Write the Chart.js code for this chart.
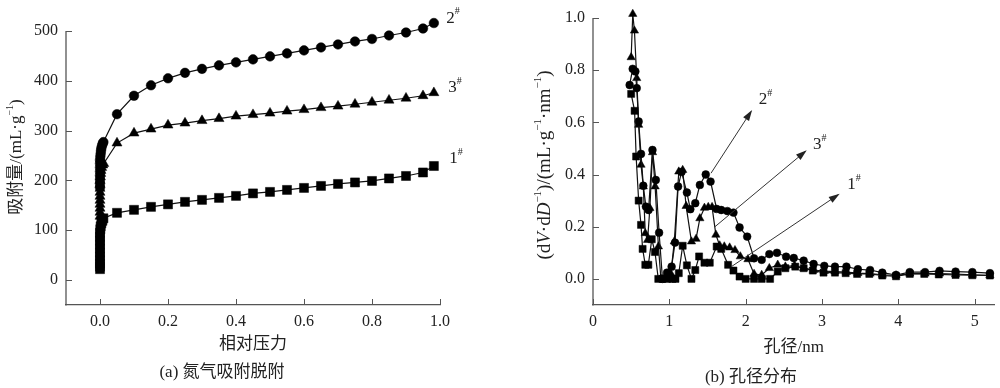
<!DOCTYPE html>
<html lang="zh">
<head>
<meta charset="UTF-8">
<title>氮气吸附脱附与孔径分布</title>
<script src="https://cdn.jsdelivr.net/npm/chart.js"></script>
<style>
body { margin: 0; background: #fff; width: 1000px; height: 388px; position: relative; overflow: hidden; }
canvas { position: absolute; top: 0; }
#chartA { left: 0; }
#chartB { left: 480px; }
.caption { position: absolute; font-family: "Liberation Serif", "Noto Sans CJK SC"; font-size: 17px; line-height: 20px; color: #222; white-space: nowrap; transform: translateX(-50%); }
</style>
</head>
<body>
<canvas id="chartA" width="470" height="388"></canvas>
<canvas id="chartB" width="520" height="388"></canvas>
<div class="caption" style="left:222px; top:362px;">(a) 氮气吸附脱附</div>
<div class="caption" style="left:751px; top:367px;">(b) 孔径分布</div>
<script>
// ---- (a) nitrogen adsorption isotherms ----
const pressure1 = [0,0,0,0,0,0,0,0,0,0,0,0.001,0.002,0.004,0.007,0.01,
  0.05,0.1,0.15,0.2,0.25,0.3,0.35,0.4,0.45,0.5,0.55,0.6,0.65,0.7,0.75,0.8,0.85,0.9,0.95,0.982];
const adsorb1 = [22,27,33,40,47,55,63,71,79,87,95,102,108,114,119,124,
  135,141,147,152,157,161,165,169,174,177,181,185,189,193,196,199,204,209,216,229];
const pressure2 = [0,0,0,0,0,0,0,0,0.001,0.002,0.003,0.004,0.006,0.008,0.01,
  0.05,0.1,0.15,0.2,0.25,0.3,0.35,0.4,0.45,0.5,0.55,0.6,0.65,0.7,0.75,0.8,0.85,0.9,0.95,0.982];
const adsorb2 = [186,194,202,210,218,226,234,241,248,254,260,265,270,274,277,
  333,370,391,405,416,424,431,437,443,449,455,461,467,473,479,484,491,497,505,516];
const pressure3 = [0,0,0,0,0,0,0,0,0,0,0.001,0.002,0.003,0.005,0.008,0.011,
  0.05,0.1,0.15,0.2,0.25,0.3,0.35,0.4,0.45,0.5,0.55,0.6,0.65,0.7,0.75,0.8,0.85,0.9,0.95,0.982];
const adsorb3 = [128,136,144,152,160,168,176,184,192,200,207,214,220,226,231,234,
  275,295,303,311,315,320,324,329,332,335,339,342,346,349,353,357,361,365,370,376];
const pressureTicks = [0, 0.2, 0.4, 0.6, 0.8, 1.0];
const adsorbTicks = [0, 100, 200, 300, 400, 500];

// ---- (b) pore size distribution ----
const pore1 = [0.50,0.545,0.565,0.598,0.629,0.65,0.685,0.725,0.77,0.812,0.855,0.91,0.97,1.04,1.08,1.124,1.175,1.23,1.29,1.34,
  1.39,1.46,1.53,1.62,1.68,1.77,1.84,1.92,2.0,2.11,2.21,2.32,2.42,2.52,2.65,2.76,2.88,3.02,3.17,3.31,
  3.46,3.62,3.79,3.97,4.15,4.34,4.53,4.75,4.97,5.2];
const dv1 = [0.709,0.644,0.469,0.30,0.207,0.115,0.054,0.054,0.152,0.103,0,0,0,0,0,0.022,0.127,0.052,0,0.034,
  0.086,0.062,0.062,0.124,0.115,0.054,0.032,0.009,0,0,0,0,0.028,0.041,0.047,0.041,0.032,0.024,0.024,0.022,
  0.019,0.019,0.013,0.010,0.019,0.019,0.017,0.015,0.014,0.013];
const pore2 = [0.48,0.52,0.555,0.573,0.598,0.629,0.659,0.693,0.728,0.779,0.823,0.866,0.91,0.97,1.03,1.075,1.115,1.16,1.23,1.275,
  1.34,1.40,1.477,1.54,1.62,1.68,1.76,1.84,1.92,2.02,2.11,2.21,2.31,2.41,2.53,2.63,2.76,2.89,3.03,3.17,
  3.32,3.47,3.63,3.79,3.97,4.15,4.35,4.54,4.75,4.97,5.2];
const dv2 = [0.743,0.805,0.795,0.731,0.603,0.479,0.357,0.277,0.264,0.494,0.379,0.177,0,0.024,0.047,0.139,0.354,0.41,0.331,0.267,
  0.29,0.36,0.40,0.373,0.268,0.264,0.26,0.254,0.197,0.162,0.079,0.073,0.095,0.10,0.085,0.08,0.07,0.057,0.05,0.047,
  0.047,0.037,0.034,0.024,0.015,0.026,0.026,0.031,0.028,0.026,0.022];
const pore3 = [0.50,0.521,0.543,0.573,0.598,0.629,0.659,0.685,0.715,0.745,0.78,0.814,0.857,0.89,0.93,0.97,1.02,1.065,1.124,1.175,
  1.22,1.29,1.35,1.40,1.46,1.51,1.56,1.61,1.66,1.72,1.79,1.86,1.93,2.03,2.11,2.21,2.31,2.42,2.52,2.64,
  2.76,2.89,3.03,3.17,3.32,3.47,3.63,3.79,3.97,4.15,4.35,4.54,4.75,4.97,5.2];
const dv3 = [0.849,1.015,0.951,0.769,0.59,0.437,0.354,0.175,0.149,0.271,0.485,0.354,0.124,0,0,0,0.02,0.143,0.411,0.417,
  0.279,0.143,0.153,0.232,0.272,0.275,0.275,0.169,0.128,0.124,0.12,0.11,0.086,0.075,0.019,0.015,0.041,0.054,0.047,0.051,
  0.041,0.034,0.03,0.028,0.026,0.022,0.02,0.016,0.013,0.02,0.02,0.02,0.018,0.016,0.014];
const poreTicks = [0, 1, 2, 3, 4, 5];
const dvTicks = [0, 0.2, 0.4, 0.6, 0.8, 1.0];

const serif = '"Liberation Serif", "Noto Sans CJK SC"';
const textColor = '#222';
const axisColor = '#555';

function pts(xs, ys) { return xs.map((x, i) => ({ x: x, y: ys[i] })); }

function richFont(s, size) {
  const sz = s.sup ? Math.round(size * 0.6) : size;
  return (s.it ? 'italic ' : '') + sz + 'px ' + serif;
}

// draws mixed italic / superscript text centred on (cx, cy)
function drawRich(ctx, segs, size, cx, cy, rot) {
  ctx.save();
  ctx.translate(cx, cy);
  ctx.rotate(rot || 0);
  ctx.fillStyle = textColor;
  ctx.textBaseline = 'middle';
  ctx.textAlign = 'left';
  let total = 0;
  segs.forEach(s => { ctx.font = richFont(s, size); total += ctx.measureText(s.t).width; });
  let xx = -total / 2;
  segs.forEach(s => {
    ctx.font = richFont(s, size);
    ctx.fillText(s.t, xx, s.sup ? -size * 0.38 : 0);
    xx += ctx.measureText(s.t).width;
  });
  ctx.restore();
}

const decor = {
  id: 'decor',
  afterDraw(chart, args, o) {
    const ctx = chart.ctx;
    const area = chart.chartArea;
    const sx = chart.scales.x, sy = chart.scales.y;
    ctx.save();
    // y axis line only up to the top tick
    const yTop = sy.getPixelForValue(sy.ticks[sy.ticks.length - 1].value);
    ctx.strokeStyle = axisColor;
    ctx.lineWidth = 1.3;
    ctx.beginPath();
    ctx.moveTo(area.left, yTop); ctx.lineTo(area.left, area.bottom + 0.6);
    ctx.stroke();
    // inward tick marks
    ctx.lineWidth = 1;
    ctx.beginPath();
    sy.ticks.forEach(t => {
      const py = Math.round(sy.getPixelForValue(t.value)) + 0.5;
      ctx.moveTo(area.left, py); ctx.lineTo(area.left + 6, py);
    });
    sx.ticks.forEach(t => {
      const px = Math.round(sx.getPixelForValue(t.value)) + 0.5;
      ctx.moveTo(px, area.bottom); ctx.lineTo(px, area.bottom - 6);
    });
    ctx.stroke();

    // y title
    drawRich(ctx, o.yTitle, o.yTitleSize, o.yTitlePos[0], o.yTitlePos[1], -Math.PI / 2);

    // arrows
    (o.arrows || []).forEach(a => {
      const x0 = sx.getPixelForValue(a.from[0]), y0 = sy.getPixelForValue(a.from[1]);
      const x1 = sx.getPixelForValue(a.to[0]), y1 = sy.getPixelForValue(a.to[1]);
      const ang = Math.atan2(y1 - y0, x1 - x0);
      ctx.strokeStyle = '#333';
      ctx.fillStyle = '#222';
      ctx.lineWidth = 1;
      ctx.beginPath(); ctx.moveTo(x0, y0); ctx.lineTo(x1, y1); ctx.stroke();
      ctx.beginPath();
      ctx.moveTo(x1 + 2 * Math.cos(ang), y1 + 2 * Math.sin(ang));
      ctx.lineTo(x1 - 9 * Math.cos(ang) + 3.5 * Math.sin(ang), y1 - 9 * Math.sin(ang) - 3.5 * Math.cos(ang));
      ctx.lineTo(x1 - 9 * Math.cos(ang) - 3.5 * Math.sin(ang), y1 - 9 * Math.sin(ang) + 3.5 * Math.cos(ang));
      ctx.closePath(); ctx.fill();
    });

    // sample labels
    (o.labels || []).forEach(l => {
      drawRich(ctx, [{ t: l.text }, { t: '#', sup: true }], 17,
        sx.getPixelForValue(l.at[0]), sy.getPixelForValue(l.at[1]), 0);
    });
    ctx.restore();
  }
};

function series(label, data, style, r) {
  return {
    label: label, data: data, showLine: true, clip: false,
    borderColor: '#111', borderWidth: 1.2,
    pointStyle: style, pointRadius: r, pointBackgroundColor: '#000', pointBorderColor: '#000', pointBorderWidth: 0.5
  };
}

function axis(min, max, tickVals, fmt, fitKey, fitVal, pad, title) {
  const s = {
    type: 'linear', min: min, max: max,
    afterBuildTicks: sc => { sc.ticks = tickVals.map(v => ({ value: v })); },
    afterFit: sc => {
      sc[fitKey] = fitVal;
      // no extra room for half tick labels, layout padding decides the plot box
      sc.paddingTop = 0; sc.paddingBottom = 0; sc.paddingLeft = 0; sc.paddingRight = 0;
    },
    grid: { display: false, drawTicks: false },
    border: { display: fitKey === 'height', color: axisColor, width: 1.3 },
    ticks: { font: { family: serif, size: 16 }, color: textColor, padding: pad, maxRotation: 0, callback: fmt }
  };
  if (title) s.title = { display: true, text: title.text, font: { family: serif, size: 17 }, color: textColor, padding: { top: 0, bottom: title.pad } };
  return s;
}

// y ranges leave headroom above the top tick so the end markers are drawn;
// the top tick still sits at y=31 (left) and y=18 (right)
new Chart(document.getElementById('chartA'), {
  type: 'scatter',
  data: {
    datasets: [
      series('1#', pts(pressure1, adsorb1), 'rect', 6.4),
      series('2#', pts(pressure2, adsorb2), 'circle', 4.8),
      series('3#', pts(pressure3, adsorb3), 'triangle', 5.8)
    ]
  },
  options: {
    responsive: false, animation: false,
    layout: { padding: { top: 15, right: 30, bottom: 28, left: 0 } },
    plugins: {
      legend: { display: false }, tooltip: { enabled: false },
      decor: {
        yTitle: [{ t: '吸附量/(mL·g' }, { t: '−1', sup: true }, { t: ')' }],
        yTitleSize: 17,
        yTitlePos: [17, 157],
        labels: [{ text: '2', at: [1.038, 526] }, { text: '3', at: [1.044, 386] }, { text: '1', at: [1.047, 244] }]
      }
    },
    scales: {
      x: axis(-0.1, 1.0, pressureTicks, v => v.toFixed(1), 'height', 55, 7, { text: '相对压力', pad: 5 }),
      y: axis(-50, 532.1, adsorbTicks, v => String(v), 'width', 66, 8)
    }
  },
  plugins: [decor]
});

new Chart(document.getElementById('chartB'), {
  type: 'scatter',
  data: {
    datasets: [
      series('1#', pts(pore1, dv1), 'rect', 5),
      series('2#', pts(pore2, dv2), 'circle', 3.9),
      series('3#', pts(pore3, dv3), 'triangle', 4.8)
    ]
  },
  options: {
    responsive: false, animation: false,
    layout: { padding: { top: 7, right: 0, bottom: 28, left: 0 } },
    plugins: {
      legend: { display: false }, tooltip: { enabled: false },
      decor: {
        yTitle: [{ t: '(d' }, { t: 'V', it: true }, { t: '·d' }, { t: 'D', it: true }, { t: '−1', sup: true },
          { t: ')/(mL·g' }, { t: '−1', sup: true }, { t: '·nm' }, { t: '−1', sup: true }, { t: ')' }],
        yTitleSize: 19,
        yTitlePos: [65, 165],
        arrows: [
          { from: [1.546, 0.405], to: [2.07, 0.641] },
          { from: [1.598, 0.20], to: [2.78, 0.488] },
          { from: [1.813, 0.047], to: [3.21, 0.322] }
        ],
        labels: [{ text: '2', at: [2.26, 0.686] }, { text: '3', at: [2.97, 0.513] }, { text: '1', at: [3.42, 0.36] }]
      }
    },
    scales: {
      x: axis(0, 5.26, poreTicks, v => String(v), 'height', 55, 7, { text: '孔径/nm', pad: 2 }),
      y: axis(-0.1, 1.0418, dvTicks, v => v.toFixed(1), 'width', 113, 8)
    }
  },
  plugins: [decor]
});
</script>
</body>
</html>
